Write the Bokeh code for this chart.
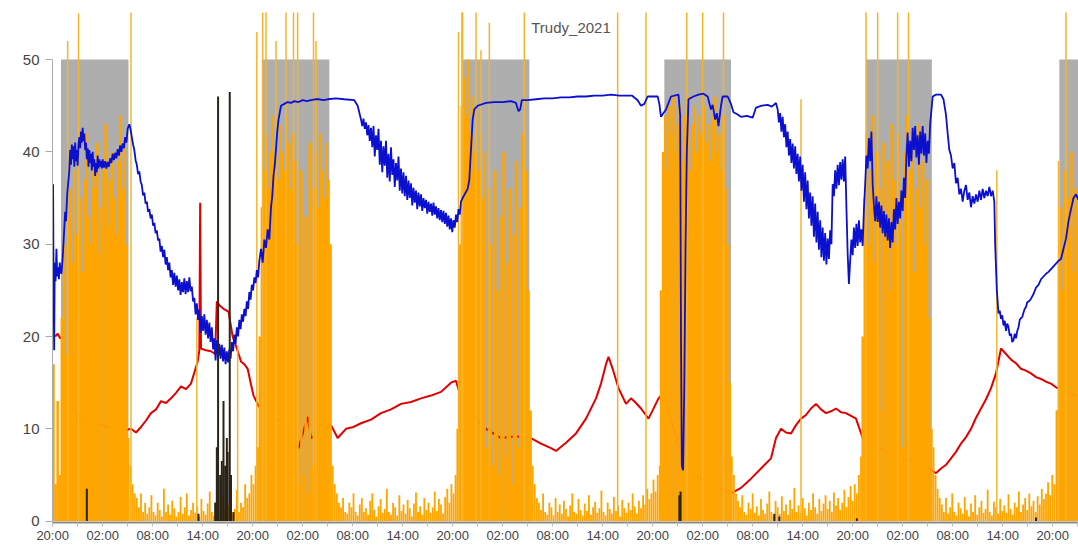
from bokeh.plotting import figure
from bokeh.models import FixedTicker, Label, Range1d
from bokeh.embed import file_html
from bokeh.resources import INLINE

# ---------------- data (hours since 20:00 on day 0) ----------------
tick_hours = [0, 6, 12, 18, 24, 30, 36, 42, 48, 54, 60, 66, 72, 78, 84, 90, 96, 102, 108, 114, 120]
tick_labels = ["20:00", "02:00", "08:00", "14:00"] * 5 + ["20:00"]
minor_hours = [3, 9, 15, 21, 27, 33, 39, 45, 51, 57, 63, 69, 75, 81, 87, 93, 99, 105, 111, 117, 123]

night_start = [1.0, 25.1, 49.2, 73.4, 97.6, 120.8]
night_end = [9.1, 33.2, 57.2, 81.4, 105.5, 129.0]

# orange activity, sampled every 0.25 h, one list per block (night, day, night, ...)
act_step = 0.25
act_blocks = [
    (0.1, [17, 4, 13, 5, 22, 30, 18, 33, 36, 28, 38, 31, 40, 35, 27, 37, 42, 33, 30, 39, 36, 41, 29, 34,
           38, 43, 32, 37, 40, 35, 31, 39, 44, 36, 41, 30]),
    (9.1, [9, 6, 4, 3, 2.5, 1.5, 3, 1, 2, 0.8, 1.5, 2.8, 1, 0.6, 2, 1.2, 0.5, 3.5, 1, 1.8, 0.7, 2.2, 1.4, 0.5,
           1, 2.6, 0.8, 1.5, 3, 0.6, 1.2, 2, 0.9, 1.6, 0.5, 2.4, 1.1, 0.7, 1.9, 3.2, 1, 0.6, 2.1, 1.4, 0.8,
           2.7, 1.2, 0.5, 1.7, 2.2, 0.9, 1.3, 3.4, 1, 2, 1.5, 4, 2.5, 3, 5, 4, 6]),
    (24.6, [8, 20, 34, 38, 42, 36, 40, 44, 39, 42, 37, 43, 40, 38, 44, 41, 36, 42, 39, 30, 4, 38, 5, 33, 3,
            41, 6, 36, 40, 34, 42, 38, 35, 41, 37, 30]),
    (33.6, [6, 4, 3, 2, 1.5, 2.5, 1, 0.8, 2, 1.5, 3, 1, 0.6, 1.8, 2.5, 1, 1.4, 0.7, 2.2, 3, 1.2, 0.5, 1.6,
            2.4, 0.9, 1.3, 3.5, 1, 0.7, 2, 1.5, 0.6, 2.8, 1.1, 1.8, 0.8, 2.3, 1.4, 0.5, 1.9, 3.1, 1, 1.6,
            0.7, 2.5, 1.2, 2, 0.9, 1.5, 3.2, 1.1, 2.4, 1.8, 0.8, 2.6, 3.5, 2, 4, 3, 5]),
    (48.6, [10, 30, 45, 48, 44, 50, 42, 46, 40, 44, 38, 42, 35, 40, 8, 36, 30, 6, 38, 25, 5, 33, 40, 7, 28,
            36, 4, 31, 39, 8, 34, 42, 30, 38, 25, 12]),
    (57.6, [6, 4, 2.5, 2, 1.2, 3, 1, 0.7, 2, 1.5, 0.6, 2.5, 1, 1.8, 0.8, 2.2, 1.3, 0.5, 1.7, 3, 1, 0.8, 2.4,
            1.2, 0.6, 1.9, 1.1, 2.8, 0.7, 1.5, 2.1, 0.9, 1.4, 3.3, 1, 0.6, 2, 1.3, 0.8, 2.6, 1.1, 1.7, 0.5,
            2.3, 1.4, 0.9, 2, 1.2, 3, 1.6, 0.8, 2.2, 1.4, 2.8, 1.8, 3.5, 2.4, 3, 4.5, 3.2, 5, 6]),
    (73.0, [25, 40, 44, 38, 45, 42, 46, 40, 43, 45, 39, 44, 41, 46, 38, 43, 45, 40, 44, 42, 37, 45, 41, 43,
            39, 44, 46, 40, 42, 38, 44, 36, 30, 15]),
    (81.5, [7, 5, 3, 2.2, 1.5, 2.8, 1, 0.7, 2, 1.3, 3, 0.9, 1.6, 0.6, 2.4, 1.2, 0.8, 1.9, 3.2, 1, 0.6, 2.2,
            1.5, 0.8, 2.7, 1.1, 1.8, 0.7, 2.3, 1.3, 3.6, 1, 1.7, 0.9, 2.5, 1.4, 0.6, 2, 1.2, 3, 1.5, 0.8,
            2.4, 1.1, 1.9, 2.8, 1.3, 2.2, 1, 3.1, 1.7, 2.5, 1.2, 2, 3.4, 1.5, 2.6, 3.8, 2.2, 4, 3, 5, 7]),
    (97.2, [20, 35, 42, 30, 38, 44, 28, 40, 36, 12, 41, 33, 39, 25, 43, 37, 30, 42, 35, 8, 40, 44, 32, 38,
            41, 27, 36, 43, 34, 39, 30, 37, 22, 10]),
    (105.7, [8, 5, 3.5, 2.5, 1.8, 1, 2.5, 0.8, 1.5, 3, 1, 0.6, 2, 1.4, 0.8, 2.6, 1.2, 0.5, 1.9, 1, 2.8, 0.7,
             1.5, 2.2, 0.9, 1.3, 3.4, 1, 0.6, 2.1, 1.5, 0.8, 2.4, 1.1, 1.7, 0.9, 2.9, 1.3, 0.7, 2, 1.5, 3.2,
             1, 1.8, 2.5, 1.2, 3, 1.6, 2.2, 1, 2.7, 1.8, 3.5, 2.4, 3, 4.2, 2.8, 5, 4]),
    (120.5, [12, 28, 34, 25, 38, 30, 35, 40, 27, 36, 32, 30, 34]),
]

spike_t = [1.8, 3.1, 9.4, 17.3, 22.2, 24.5, 25.2, 25.6, 26.8, 28.0, 28.9, 29.4, 31.3, 31.6, 48.7, 49.1,
           49.2, 50.8, 51.4, 52.4, 56.6, 67.8, 71.2, 76.1, 78.0, 80.5, 89.8, 97.6, 99.0, 101.4, 102.7,
           113.3, 120.7, 121.6]
spike_v = [52, 55, 56, 22, 19, 53, 56, 56, 52, 56, 56, 56, 56, 52, 53, 56, 56, 56, 51, 54, 56, 56, 56, 56,
           56, 56, 45.7, 56, 56, 56, 56, 38, 39, 56]

black_t = [4.1, 17.5, 19.5, 19.7, 19.85, 20.1, 20.3, 20.5, 20.7, 20.9, 21.0, 21.25, 21.4, 21.7, 75.2, 75.35,
           86.6, 87.2, 96.5, 118.0]
black_v = [3.5, 0.8, 2, 8, 46, 5, 6.5, 13, 6, 9, 7.5, 46.5, 5, 1, 2.8, 3.2, 0.8, 0.5, 0.3, 0.4]

red_pts = [(0.3, 20), (0.6, 20.3), (0.9, 19.8), (1.2, 20), (1.5, 16), (1.8, 13), (2.4, 12.2), (3.0, 11.5),
           (4.1, 10.5), (5.0, 10.8), (6.4, 10.2), (7.5, 10), (8.5, 9.8), (9.4, 10), (10.0, 9.6), (10.6, 10.2),
           (11.2, 10.9), (11.8, 11.7), (12.4, 12.1), (13.0, 13), (13.6, 12.8), (14.2, 13.3), (14.8, 13.9),
           (15.4, 14.6), (16.0, 14.3), (16.6, 14.9), (16.9, 15.8), (17.4, 17.3), (17.6, 18.5),
           (17.7, 34.5), (17.8, 18.7), (18.4, 18.5), (19.0, 18.4), (19.5, 18.1), (19.7, 23.8), (20.1, 23.3),
           (20.5, 23), (21.1, 22.7), (21.6, 20), (22.1, 18.7), (22.6, 17.3), (23.0, 17.0), (23.4, 16.5),
           (23.8, 14.8), (24.1, 13.6), (24.7, 12.5), (25.5, 11.5), (27, 11), (28.5, 10.5), (29.5, 7.9),
           (30.6, 11.3), (31.0, 9), (32, 9.5), (33.4, 10.4), (34.2, 9), (35.2, 10), (36.1, 10.2), (37.0, 10.6),
           (38.2, 11), (39.4, 11.7), (40.6, 12.1), (41.8, 12.7), (43.0, 12.9), (44.2, 13.3), (45.4, 13.6),
           (46.6, 14), (47.8, 15), (48.4, 15.2), (49.0, 13.3), (49.6, 12.2), (52.0, 10), (53.8, 9),
           (55.6, 9.2), (56.8, 9), (57.4, 9), (58.6, 8.4), (59.8, 7.9), (60.4, 7.6), (61.6, 8.5),
           (62.8, 9.5), (64.0, 11.1), (65.2, 13.3), (65.8, 14.9), (66.4, 17), (66.7, 17.8), (67.2, 16.5),
           (67.9, 14.4), (68.8, 12.7), (69.4, 13.3), (70.0, 12.8), (70.6, 12.2), (71.5, 11.1), (72.0, 12),
           (72.7, 13.3), (73.2, 13.8), (74.5, 10), (75.4, 7), (77, 5), (79, 4), (81.4, 3), (82.6, 3.6),
           (83.8, 4.6), (85.0, 5.7), (86.2, 6.8), (86.8, 9), (87.4, 10), (88.0, 9.6), (88.6, 9.5), (89.2, 10.4),
           (89.8, 11.1), (90.4, 11.5), (91.0, 12.2), (91.6, 12.7), (92.2, 12.1), (92.8, 11.7), (93.4, 11.9),
           (94.0, 12.2), (94.6, 11.8), (95.2, 11.7), (95.8, 11.4), (96.4, 11.1), (97.2, 9),
           (99, 8), (101, 7), (103, 6.5), (104.5, 6), (106.0, 5.2), (106.6, 5.7), (107.2, 6.1), (107.8, 6.8),
           (108.4, 7.5), (109.0, 8.4), (109.6, 9.1), (110.2, 10), (110.8, 11.2), (111.4, 12.2), (112.0, 13.2),
           (112.6, 14.4), (113.2, 16), (113.8, 18.7), (114.4, 18.1), (115.0, 17.5), (115.6, 17.1),
           (116.2, 16.5), (116.8, 16.3), (117.4, 16), (118.0, 15.6), (118.6, 15.4), (119.2, 15.1),
           (119.8, 14.9), (120.4, 14.5), (121.5, 14), (123, 13.5)]

blue_pts = [(0.05, 36.5), (0.12, 24), (0.18, 18.5), (0.25, 28), (0.35, 26), (0.45, 29.5), (0.55, 26.5),
            (0.65, 27.5), (0.75, 26.2), (0.85, 28), (0.95, 27), (1.05, 26.8), (1.2, 28.5), (1.35, 31),
            (1.5, 33.5), (1.6, 32.5), (1.75, 35.5), (1.9, 37),
            (2.0, 38), (2.1, 40.2), (2.2, 38.6), (2.3, 40.8), (2.4, 39.2), (2.5, 40.6), (2.6, 38.4), (2.7, 41),
            (2.8, 39), (2.9, 40.2), (3.0, 38.5), (3.1, 40.8), (3.2, 41.6), (3.3, 40.4), (3.4, 42.2), (3.5, 41),
            (3.6, 42.6), (3.7, 41.2), (3.8, 42), (3.9, 40.2), (4.0, 41), (4.1, 39.2), (4.2, 40.4), (4.3, 38.4),
            (4.4, 40.2), (4.5, 38.8), (4.6, 39.8), (4.7, 38), (4.8, 40), (4.9, 38.4), (5.0, 39.2), (5.1, 37.4),
            (5.2, 38.8), (5.3, 37.8), (5.4, 39.6), (5.5, 38.2), (5.6, 39.2), (5.7, 38.4), (5.8, 39), (5.9, 38.2),
            (6.0, 39.2), (6.15, 38.3), (6.3, 39), (6.45, 38.2), (6.6, 38.9), (6.75, 38.4), (6.9, 39.3),
            (7.05, 38.8), (7.2, 39.8), (7.35, 39.1), (7.5, 39.9), (7.65, 39.3), (7.8, 40.3), (7.95, 39.6),
            (8.1, 40.7), (8.25, 40), (8.4, 40.9), (8.55, 40.4), (8.7, 41.6), (8.85, 41), (9.0, 42.5),
            (9.2, 43), (9.35, 42.4), (9.5, 41.6), (9.65, 40.8), (9.8, 40.2), (9.95, 39.1), (10.1, 38.6),
            (10.25, 37.6), (10.4, 37.9), (10.55, 36.8), (10.7, 36.4), (10.85, 35.3), (11.0, 35.6), (11.15, 34.4),
            (11.3, 34.6), (11.45, 33.5), (11.6, 33.8), (11.75, 32.8), (11.9, 33.2), (12.05, 32), (12.2, 32.3),
            (12.35, 31.2), (12.5, 31.5), (12.65, 30.4), (12.8, 30.6), (12.95, 29.2), (13.1, 29.8), (13.25, 28.6),
            (13.4, 29.4), (13.55, 27.8), (13.7, 28.6), (13.85, 27.2), (14.0, 28), (14.15, 26.4), (14.3, 27.2),
            (14.45, 25.6), (14.6, 26.9), (14.75, 25.4), (14.9, 26.6), (15.05, 25), (15.2, 26.2), (15.35, 24.5),
            (15.5, 25.9), (15.65, 24.8), (15.8, 26.3), (15.95, 24.6), (16.1, 26), (16.25, 24.8), (16.4, 26.4),
            (16.55, 24.9), (16.7, 25.4), (16.85, 23.8), (17.0, 24.2), (17.15, 22.4), (17.3, 23.6), (17.45, 21.8),
            (17.6, 22.9), (17.75, 20.4), (17.9, 22.2), (18.05, 20.6), (18.2, 22.4), (18.35, 20.2), (18.5, 21.8),
            (18.65, 19.8), (18.8, 21.5), (18.95, 19.4), (19.1, 21), (19.25, 18.6), (19.4, 19.8), (19.55, 17.4),
            (19.7, 19.6), (19.85, 17.8), (20.0, 19.2), (20.15, 17.6), (20.3, 19.1), (20.45, 17.3), (20.6, 18.8),
            (20.75, 17), (20.9, 18.4), (21.05, 17.2), (21.2, 18.6), (21.35, 17.6), (21.5, 19.4), (21.65, 18.4),
            (21.8, 20.2), (21.95, 19.2), (22.1, 21), (22.25, 20), (22.4, 21.8), (22.55, 20.8), (22.7, 22.4),
            (22.85, 21.6), (23.0, 23), (23.15, 22.2), (23.3, 23.8), (23.45, 23), (23.6, 24.8), (23.75, 24),
            (23.9, 25.6), (24.05, 25), (24.2, 26.4), (24.35, 25.8), (24.5, 27.2), (24.65, 26.4), (24.8, 28.2),
            (25.0, 29.5), (25.2, 28), (25.4, 30.5), (25.6, 29.6), (25.8, 31.6), (26.0, 30.5), (26.2, 34),
            (26.35, 35.2), (26.5, 37.4), (26.65, 38.5), (26.8, 40.3), (26.95, 42.2), (27.1, 43.5), (27.4, 45),
            (27.8, 45.2), (28.2, 45.4), (28.6, 45.3), (29, 45.5), (29.5, 45.4), (30, 45.6), (30.5, 45.5),
            (31, 45.6), (31.5, 45.7), (32, 45.7), (32.5, 45.6), (33, 45.7), (34, 45.8), (35, 45.7), (36.2, 45.6),
            (36.6, 45), (37.0, 43.5), (37.15, 42.8), (37.3, 43.6), (37.45, 42.5), (37.6, 43.2), (37.75, 41.8),
            (37.9, 42.9), (38.05, 41.2), (38.2, 42.6), (38.35, 40.5), (38.5, 42.8), (38.65, 39.5), (38.8, 41.8),
            (38.95, 40.2), (39.1, 42.5), (39.25, 38.6), (39.4, 41.2), (39.55, 37.8), (39.7, 40.6), (39.85, 38.5),
            (40.0, 41.2), (40.15, 37.2), (40.3, 39.8), (40.45, 36.8), (40.6, 40.5), (40.75, 37.5), (40.9, 39.2),
            (41.05, 36.2), (41.2, 38.8), (41.35, 36.9), (41.5, 39.5), (41.65, 35.8), (41.8, 38.2), (41.95, 35.5),
            (42.1, 37.8), (42.25, 35.2), (42.4, 37.4), (42.55, 34.8), (42.7, 36.9), (42.85, 35), (43.0, 36.6),
            (43.15, 34.2), (43.3, 36.1), (43.45, 34.5), (43.6, 35.8), (43.75, 33.8), (43.9, 35.6), (44.05, 34.1),
            (44.2, 35.4), (44.35, 33.6), (44.5, 35), (44.65, 33.9), (44.8, 34.8), (44.95, 33.3), (45.1, 34.6),
            (45.25, 33.5), (45.4, 34.4), (45.55, 33.1), (45.7, 34.5), (45.85, 33.2), (46.0, 34.1), (46.15, 32.8),
            (46.3, 33.9), (46.45, 32.6), (46.6, 33.7), (46.75, 32.4), (46.9, 33.6), (47.05, 32.2), (47.2, 33.4),
            (47.35, 31.9), (47.5, 33.1), (47.65, 31.6), (47.8, 32.8), (47.95, 31.3), (48.1, 32.6), (48.25, 31.8),
            (48.4, 33.2), (48.55, 32.4), (48.7, 33.8), (48.85, 33.2), (49.0, 34.6), (49.2, 35), (49.5, 35.5),
            (49.8, 36), (50.0, 37), (50.2, 40.3), (50.4, 43.5), (50.6, 44.6), (51, 45), (52, 45.3), (53, 45.4),
            (54, 45.4), (55, 45.5), (55.6, 45.3), (55.9, 44.4), (56.1, 44.6), (56.3, 45.6), (57, 45.6),
            (58, 45.7), (59, 45.8), (60, 45.8), (61, 45.9), (62, 45.9), (63, 46), (64, 46), (65, 46.1), (66, 46.1),
            (67, 46.2), (68, 46.1), (69.5, 46.1), (70.2, 45.6), (70.6, 45), (71.0, 45.2), (71.4, 46), (72.6, 46),
            (72.8, 45.2), (73.0, 43.8), (73.3, 44.2), (73.6, 44.6), (74.2, 46), (75.1, 46.2), (75.3, 44),
            (75.4, 20), (75.5, 6), (75.65, 5.5), (75.8, 15), (75.95, 30), (76.1, 40), (76.3, 45.7), (76.9, 46),
            (77.5, 46.2), (78.1, 46.3), (78.6, 46), (79.0, 44.6), (79.2, 45.1), (79.5, 43.5), (79.7, 44.2),
            (79.9, 42.8), (80.2, 45), (80.4, 46), (81.0, 46), (81.4, 45.2), (81.7, 44.3), (82.1, 44.1),
            (82.6, 43.8), (83.3, 43.9), (84.0, 43.7), (84.4, 44.8), (85.1, 45), (85.8, 45.1), (86.3, 44.9),
            (86.8, 45.3), (87.0, 44.6), (87.15, 43.2), (87.3, 44.2), (87.45, 42.2), (87.6, 43.8), (87.75, 41.6),
            (87.9, 43), (88.05, 40.5), (88.2, 42.2), (88.35, 39.6), (88.5, 41.4), (88.65, 38.8), (88.8, 40.9),
            (88.95, 38.2), (89.1, 40.6), (89.25, 37.6), (89.4, 39.8), (89.55, 36.8), (89.7, 39.5), (89.85, 35.8),
            (90.0, 38.6), (90.15, 34.6), (90.3, 37.8), (90.45, 33.8), (90.6, 36.9), (90.75, 32.8), (90.9, 35.6),
            (91.05, 32), (91.2, 35.2), (91.35, 30.8), (91.5, 34.4), (91.65, 30.2), (91.8, 33.5), (91.95, 29.4),
            (92.1, 32.6), (92.25, 28.6), (92.4, 31.8), (92.55, 28.2), (92.7, 31.2), (92.85, 27.8), (93.0, 30.6),
            (93.15, 28.4), (93.3, 31.5), (93.45, 30), (93.6, 36.5), (93.75, 35.2), (93.9, 38), (94.05, 36),
            (94.2, 38.6), (94.35, 36.4), (94.5, 38.9), (94.65, 37), (94.8, 39.2), (94.95, 36.8), (95.1, 39.5),
            (95.25, 34), (95.4, 29), (95.55, 25.7), (95.7, 28.2), (95.85, 30.5), (96.0, 28.8), (96.15, 31.8),
            (96.3, 29.6), (96.45, 32.2), (96.6, 29.8), (96.75, 32.6), (96.9, 30.2), (97.05, 31.6), (97.2, 29.8),
            (97.35, 33.8), (97.5, 36.5), (97.65, 39.6), (97.8, 38.2), (97.95, 41.5), (98.1, 39), (98.25, 42.2),
            (98.4, 36.5), (98.55, 34.2), (98.7, 32.5), (98.85, 35.2), (99.0, 32.4), (99.15, 34.6), (99.3, 31.8),
            (99.45, 34.2), (99.6, 31.2), (99.75, 33.6), (99.9, 30.8), (100.05, 33.2), (100.2, 30.4),
            (100.35, 32.8), (100.5, 29.6), (100.65, 32.4), (100.8, 30.2), (100.95, 33.8), (101.1, 31.6),
            (101.25, 35), (101.4, 32.2), (101.55, 34.6), (101.7, 32.8), (101.85, 35.8), (102.0, 33.6),
            (102.15, 37.2), (102.3, 35), (102.45, 39.6), (102.6, 42.1), (102.75, 38.4), (102.9, 41.2),
            (103.05, 39), (103.2, 42.6), (103.35, 40.2), (103.5, 42.8), (103.65, 39.4), (103.8, 41.8),
            (103.95, 38.6), (104.1, 42.2), (104.25, 39.8), (104.4, 42.8), (104.55, 39.6), (104.7, 42),
            (104.85, 38.8), (105.0, 41.2), (105.15, 39.8), (105.3, 43), (105.45, 44.5), (105.6, 46),
            (106.0, 46.2), (106.6, 46.2), (106.9, 45.7), (107.2, 44), (107.4, 42), (107.6, 40.2), (107.8, 39.6),
            (108.0, 38.2), (108.2, 38.8), (108.4, 36.6), (108.6, 37.2), (108.8, 35.4), (109.0, 36), (109.2, 34.6),
            (109.4, 35.8), (109.6, 36.4), (109.8, 34.8), (110.0, 35.6), (110.2, 34), (110.4, 35.2), (110.6, 34.4),
            (110.8, 35.4), (111.0, 34.6), (111.2, 35.8), (111.4, 34.8), (111.6, 36), (111.8, 35), (112.0, 35.8),
            (112.2, 35.2), (112.4, 36.2), (112.6, 35.2), (112.8, 35.8), (113.0, 34.6), (113.1, 30), (113.3, 25),
            (113.5, 22.5), (113.65, 22.8), (113.8, 21.9), (113.95, 22.3), (114.1, 21.2), (114.25, 21.7),
            (114.4, 20.6), (114.55, 21.4), (114.7, 21), (114.85, 20.1), (115.0, 20.3), (115.15, 19.4),
            (115.3, 19.6), (115.45, 20.3), (115.6, 19.8), (115.75, 20.6), (115.9, 21), (116.05, 21.8),
            (116.2, 22), (116.35, 22.1), (116.5, 22.6), (116.65, 23), (116.8, 23.2), (116.95, 23.7),
            (117.1, 23.8), (117.25, 23.9), (117.4, 24.1), (117.7, 24.6), (118.0, 25.3), (118.3, 25.6),
            (118.6, 26.2), (118.9, 26.5), (119.2, 26.8), (119.5, 27), (119.8, 27.3), (120.1, 27.6),
            (120.4, 27.9), (120.7, 28.2), (121.0, 28.4), (121.3, 29.5), (121.6, 30.6), (121.9, 32.5),
            (122.2, 33.8), (122.5, 35), (122.8, 35.4), (123.1, 34.8)]

title_text = "Trudy_2021"

# ---------------- figure ----------------
p = figure(width=1078, height=545, output_backend="svg", toolbar_location=None,
           x_range=Range1d(-0.02, 123.1), y_range=Range1d(-0.15, 55.1),
           min_border_left=52, min_border_right=0, min_border_top=12, min_border_bottom=0)
p.outline_line_color = None
p.grid.visible = False
p.background_fill_color = "white"

# night shading
p.quad(left=night_start, right=night_end, bottom=0, top=50, fill_color="#AEAEAE", line_color=None)

# red line
p.line([t for t, v in red_pts], [v for t, v in red_pts], line_color="#E00000", line_width=2)

# orange activity bars
night_t, night_v, day_t, day_v = [], [], [], []
for i, (start, vals) in enumerate(act_blocks):
    ts = [start + act_step * k for k in range(len(vals))]
    if i % 2 == 0:
        night_t += ts
        night_v += vals
    else:
        day_t += ts
        day_v += vals
p.vbar(x=night_t, top=night_v, bottom=0, width=0.3, fill_color="#FFA500", line_color=None)
p.vbar(x=day_t, top=day_v, bottom=0, width=0.22, fill_color="#FFA500", line_color=None)
p.segment(x0=spike_t, y0=[0] * len(spike_t), x1=spike_t, y1=spike_v, line_color="#F6B42A", line_width=1.5)

# blue line
p.line([t for t, v in blue_pts], [v for t, v in blue_pts], line_color="#0A0FD0", line_width=1.8)

# black spikes
p.segment(x0=black_t, y0=[0] * len(black_t), x1=black_t, y1=black_v, line_color="#2A2418", line_width=2)

# title inside plot area
p.add_layout(Label(x=62.2, y=53.5, text=title_text, text_align="center", text_baseline="middle",
                   text_font="Liberation Sans", text_font_size="15px", text_color="#555555"))

# axes
p.xaxis.ticker = FixedTicker(ticks=tick_hours, minor_ticks=minor_hours)
p.xaxis.major_label_overrides = {h: lab for h, lab in zip(tick_hours, tick_labels)}
p.xaxis.bounds = (0, 123.1)
p.xaxis.axis_line_color = "#8A8A8A"
p.xaxis.axis_line_width = 2
p.xaxis.major_tick_line_color = "#BBBBBB"
p.xaxis.minor_tick_line_color = "#BBBBBB"
p.xaxis.major_tick_in = 0
p.xaxis.major_tick_out = 4
p.xaxis.minor_tick_in = 0
p.xaxis.minor_tick_out = 4
p.xaxis.major_label_standoff = 1
p.xaxis.major_label_text_font = "Liberation Sans"
p.xaxis.major_label_text_font_size = "13px"
p.xaxis.major_label_text_color = "#444444"

p.yaxis.ticker = FixedTicker(ticks=[0, 10, 20, 30, 40, 50])
p.yaxis.bounds = (0, 50)
p.yaxis.axis_line_color = "#AAAAAA"
p.yaxis.major_tick_line_color = "#AAAAAA"
p.yaxis.major_tick_in = 0
p.yaxis.major_tick_out = 7
p.yaxis.minor_tick_line_color = None
p.yaxis.major_label_standoff = 6
p.yaxis.major_label_text_font = "Liberation Sans"
p.yaxis.major_label_text_font_size = "15px"
p.yaxis.major_label_text_color = "#444444"

open("out.html", "w").write(file_html(p, INLINE))
